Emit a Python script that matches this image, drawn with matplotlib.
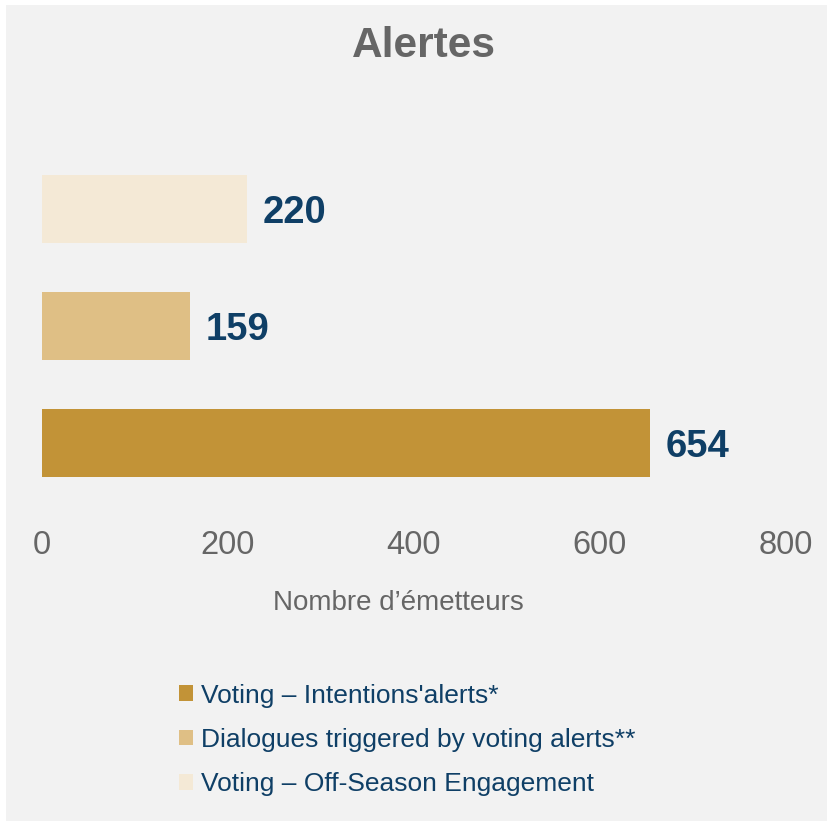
import matplotlib.pyplot as plt
from matplotlib.patches import Rectangle

categories = ["Voting – Intentions'alerts*", "Dialogues triggered by voting alerts**", "Voting – Off-Season Engagement"]
values = [654, 159, 220]
colors = ["#C29337", "#DFBF85", "#F4E9D6"]
xticks = [0, 200, 400, 600, 800]

W, H = 828, 822
fig = plt.figure(figsize=(W / 100, H / 100), dpi=100, facecolor="white")
plt.rcParams['font.family'] = ['Liberation Sans', 'DejaVu Sans']

# gray panel background
fig.patches.append(Rectangle((6 / W, 1 - 821 / H), (827 - 6) / W, (821 - 5) / H,
                             transform=fig.transFigure, facecolor="#F2F2F2",
                             edgecolor="none", zorder=-10))

ax = fig.add_axes([42 / W, 1 - 501 / H, (786 - 42) / W, (501 - 151) / H])
ax.set_facecolor("none")
ypos = list(range(len(values)))
bars = ax.barh(ypos, values, height=0.583, color=colors, label=categories)
ax.set_xlim(0, 800)
ax.set_ylim(-0.5, 2.5)
ax.set_yticks([])
ax.set_xticks(xticks)
ax.set_xticklabels([str(t) for t in xticks], fontsize=23.5, color="#666666")
ax.tick_params(axis="x", length=0, pad=21)
for s in ax.spines.values():
    s.set_visible(False)

for y, v in zip(ypos, values):
    ax.text(v + 17, y, str(v), va="center_baseline", ha="left", fontsize=27.5,
            fontweight="bold", color="#0F3F66")

ax.set_xlabel("Nombre d’émetteurs", fontsize=20, color="#666666")
ax.xaxis.set_label_coords((398 - 42) / 744, -(603 - 501) / 350, transform=ax.transAxes)
ax.xaxis.label.set_va("center")

fig.text(424 / W, 1 - 46 / H, "Alertes", ha="center", va="center",
         fontsize=30.5, fontweight="bold", color="#666666")

handles = [Rectangle((0, 0), 1, 1, facecolor=c) for c in colors]
leg = fig.legend(handles, categories, loc="upper left",
                 bbox_to_anchor=(168 / W, 1 - 673 / H), frameon=False,
                 fontsize=19, handlelength=0.55, handleheight=0.55,
                 handletextpad=0.3, labelspacing=0.77, borderaxespad=0)
for t in leg.get_texts():
    t.set_color("#0F3F66")

fig.savefig("out.png", dpi=100, facecolor=fig.get_facecolor())
